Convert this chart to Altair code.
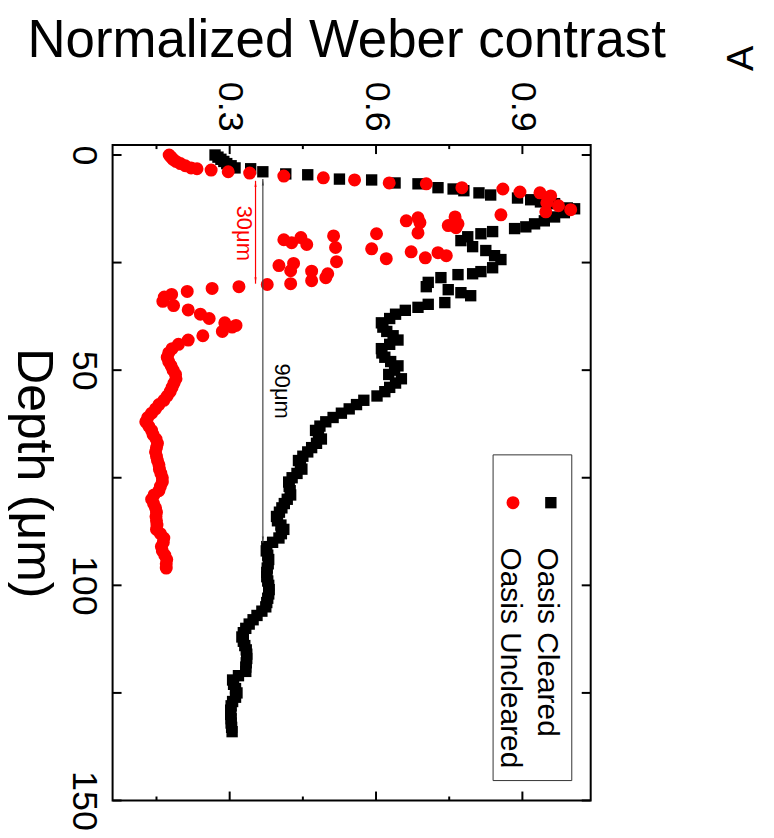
import altair as alt
import pandas as pd

# ---- data ----
cleared_depth = [0, 0.5, 1, 1.5, 2, 2.5, 3, 3.2, 3.9, 4.4, 4.6, 5.6, 5.8, 6.5, 6.7, 7.6, 7.9, 8.3, 8.8, 9.3,
                 10.0, 10.4, 10.9, 11.3, 12.3, 12.5, 13.4, 14.4, 15.3, 16.0, 16.7, 17.1, 17.8, 18.3, 19.0, 19.9,
                 21.3, 22.2, 23.4, 24.3, 26.2, 27.1, 27.6, 27.8, 28.5, 29.6, 30.6, 31.3, 32.0, 32.7, 34.3, 34.7,
                 35.4, 36.1, 37, 38, 39, 40, 41, 42, 43, 44, 45, 46, 47, 48, 49, 50, 51, 52, 53, 54, 55, 56, 57,
                 58, 59, 60, 61, 62, 63, 64, 65, 66, 67, 68, 69, 70, 71, 72, 73, 74, 75, 76, 77, 78, 79, 80, 81,
                 82, 83, 84, 85, 86, 87, 88, 89, 90, 91, 92, 93, 94, 95, 96, 97, 98, 99, 100, 101, 102, 103, 104,
                 105, 106, 107, 108, 109, 110, 111, 112, 113, 114, 115, 116, 117, 118, 119, 120, 121, 122, 123,
                 124, 125, 126, 127, 128, 129, 130, 131, 132, 133, 134]
cleared_contrast = [0.270, 0.276, 0.282, 0.288, 0.294, 0.303, 0.311, 0.343, 0.368, 0.415, 0.460, 0.525, 0.591,
                    0.639, 0.686, 0.727, 0.758, 0.780, 0.811, 0.835, 0.890, 0.917, 0.937, 0.966, 0.992, 1.007,
                    0.986, 0.966, 0.945, 0.925, 0.907, 0.884, 0.839, 0.815, 0.788, 0.774, 0.798, 0.825, 0.843,
                    0.856, 0.839, 0.815, 0.798, 0.768, 0.733, 0.707, 0.703, 0.748, 0.774, 0.794, 0.741, 0.707,
                    0.686, 0.660, 0.640, 0.628, 0.611, 0.614, 0.622, 0.635, 0.645, 0.628, 0.611, 0.612, 0.618,
                    0.630, 0.645, 0.638, 0.626, 0.652, 0.640, 0.628, 0.618, 0.602, 0.575, 0.560, 0.545, 0.529,
                    0.512, 0.497, 0.485, 0.476, 0.482, 0.488, 0.478, 0.468, 0.460, 0.450, 0.441, 0.445, 0.448,
                    0.438, 0.428, 0.421, 0.422, 0.424, 0.425, 0.418, 0.412, 0.407, 0.402, 0.396, 0.398, 0.405,
                    0.411, 0.406, 0.401, 0.388, 0.376, 0.375, 0.378, 0.380, 0.379, 0.377, 0.376, 0.376, 0.378,
                    0.380, 0.381, 0.380, 0.378, 0.376, 0.374, 0.366, 0.356, 0.348, 0.340, 0.333, 0.328, 0.325,
                    0.328, 0.331, 0.334, 0.335, 0.335, 0.334, 0.333, 0.333, 0.318, 0.306, 0.308, 0.312, 0.315,
                    0.312, 0.306, 0.303, 0.302, 0.302, 0.303, 0.303, 0.304, 0.305]

uncleared_depth = [0, 0.5, 1, 1.5, 2, 2.5, 3, 3.2, 3.5, 3.9, 4.2, 4.9, 5.3, 5.8, 6.5, 6.7, 7.6, 7.9, 8.6, 8.8,
                   9.5, 11.1, 11.8, 12.7, 13.2, 13.9, 14.4, 14.6, 15.3, 15.7, 16.0, 16.4, 16.9, 18.1, 18.3, 18.8,
                   19.2, 19.7, 20.4, 20.8, 21.5, 21.8, 22.5, 22.7, 23.4, 23.9, 24.1, 24.8, 25.2, 25.7, 26.9,
                   27.0, 27.6, 28.5, 29.2, 29.9, 30.1, 30.6, 31.0, 31.7, 32.4, 33, 34, 35, 36, 37, 38, 39, 39.6,
                   40, 41, 42, 43, 44, 45, 46, 47, 48, 49, 50, 51, 52, 53, 54, 55, 56, 57, 58, 59, 60, 61, 62, 63,
                   64, 65, 66, 67, 68, 69, 70, 71, 72, 73, 74, 75, 76, 77, 78, 79, 80, 81, 82, 83, 84, 85, 86, 87,
                   88, 89, 90, 91, 92, 93, 94, 95, 96]
uncleared_contrast = [0.176, 0.180, 0.184, 0.190, 0.199, 0.209, 0.221, 0.233, 0.262, 0.297, 0.341, 0.411,
                      0.492, 0.556, 0.627, 0.703, 0.776, 0.860, 0.895, 0.936, 0.958, 0.950, 0.974, 0.999, 0.948,
                      0.856, 0.762, 0.686, 0.662, 0.690, 0.768, 0.748, 0.764, 0.686, 0.601, 0.513, 0.446, 0.411,
                      0.427, 0.458, 0.517, 0.591, 0.672, 0.727, 0.744, 0.701, 0.621, 0.519, 0.431, 0.401, 0.425,
                      0.468, 0.501, 0.497, 0.468, 0.425, 0.377, 0.319, 0.264, 0.213, 0.181, 0.166, 0.163, 0.185,
                      0.215, 0.240, 0.258, 0.290, 0.313, 0.305, 0.285, 0.245, 0.215, 0.195, 0.182, 0.175, 0.172,
                      0.175, 0.180, 0.184, 0.189, 0.190, 0.186, 0.182, 0.178, 0.172, 0.165, 0.155, 0.148, 0.140,
                      0.132, 0.128, 0.134, 0.140, 0.143, 0.149, 0.152, 0.150, 0.148, 0.150, 0.152, 0.155, 0.156,
                      0.159, 0.162, 0.162, 0.158, 0.155, 0.145, 0.140, 0.144, 0.148, 0.150, 0.149, 0.150, 0.151,
                      0.150, 0.158, 0.165, 0.164, 0.160, 0.162, 0.167, 0.171, 0.170, 0.170]

series_names = ["Oasis Cleared", "Oasis Uncleared"]
x_major = [0.3, 0.6, 0.9]
x_minor = [0.15, 0.45, 0.75]
y_ticks = [0, 25, 50, 75, 100, 125, 150]
y_labels = [0, 50, 100, 150]

# annotation arrows (contrast position, start depth, end depth) and labels
arrow_contrast = [0.368, 0.353]
arrow_start = [5.6, 6.0]
arrow_end = [90.1, 29.9]
arrow_color = ["#444444", "#FF0000"]
ann_text = ["90μm", "30μm"]
ann_contrast = [0.408, 0.330]
ann_depth = [54.9, 18.2]

FONT = "Liberation Sans"
W, H = 480, 658

cleared = pd.DataFrame({"depth": cleared_depth, "contrast": cleared_contrast})
uncleared = pd.DataFrame({"depth": uncleared_depth, "contrast": uncleared_contrast})

xs = alt.Scale(domain=[0.06, 1.04], nice=False, zero=False)
ys = alt.Scale(domain=[-2.3, 150], nice=False, zero=False, reverse=True)

x_axis = alt.Axis(orient="top", values=x_major, ticks=False, domain=False, grid=False,
                  labelAngle=90, labelAlign="right", labelBaseline="middle", labelPadding=14,
                  labelFontSize=36, labelFont=FONT, labelColor="black", labelFlush=False,
                  format=".1f",
                  title="Normalized Weber contrast", titleFontSize=53, titleFont=FONT,
                  titleFontWeight="normal", titleColor="black", titleX=234.5, titleY=-89,
                  titleAlign="center", titleBaseline="alphabetic", titleAngle=0)
y_axis = alt.Axis(orient="left", values=y_labels, ticks=False, domain=False, grid=False,
                  labelAngle=90, labelAlign="center", labelBaseline="top", labelPadding=12,
                  labelFontSize=36, labelFont=FONT, labelColor="black", labelFlush=False,
                  title="Depth (μm)", titleFontSize=50, titleFont=FONT, titleFontWeight="normal",
                  titleColor="black", titleAngle=90, titleX=-95, titleY=H / 2,
                  titleAlign="center", titleBaseline="alphabetic")


def X(field):
    return alt.X(field, scale=xs, axis=x_axis)


def Y(field):
    return alt.Y(field, scale=ys, axis=y_axis)


black_pts = alt.Chart(cleared).mark_point(shape="square", filled=True, size=130, opacity=1,
                                           color="black").encode(x=X("contrast:Q"), y=Y("depth:Q"))
red_pts = alt.Chart(uncleared).mark_point(shape="circle", filled=True, size=170, opacity=1,
                                          color="#FF0000").encode(x=X("contrast:Q"), y=Y("depth:Q"))

arrows = pd.DataFrame({"contrast": arrow_contrast, "depth": arrow_start, "end": arrow_end,
                       "col": arrow_color})
arrow_lines = alt.Chart(arrows).mark_rule(strokeWidth=1.2).encode(
    x=X("contrast:Q"), y=Y("depth:Q"), y2="end:Q", color=alt.Color("col:N", scale=None))
head_up = alt.Chart(arrows).mark_point(shape="M0,0L-0.32,2L0.32,2Z", filled=True, size=40,
                                       opacity=1).encode(
    x=X("contrast:Q"), y=Y("depth:Q"), color=alt.Color("col:N", scale=None))
arrows_end = pd.DataFrame({"contrast": arrow_contrast, "depth": arrow_end, "col": arrow_color})
head_down = alt.Chart(arrows_end).mark_point(shape="M0,0L-0.32,-2L0.32,-2Z", filled=True, size=40,
                                             opacity=1).encode(
    x=X("contrast:Q"), y=Y("depth:Q"), color=alt.Color("col:N", scale=None))
ann = pd.DataFrame({"text": ann_text, "contrast": ann_contrast, "depth": ann_depth,
                    "col": ["black", "#FF0000"]})
ann_labels = alt.Chart(ann).mark_text(angle=90, align="center", baseline="middle", fontSize=22,
                                      font=FONT).encode(
    x=X("contrast:Q"), y=Y("depth:Q"), text="text:N", color=alt.Color("col:N", scale=None))

# inward ticks on all four sides
xmaj = pd.DataFrame({"contrast": x_major})
xmin = pd.DataFrame({"contrast": x_minor})
yt = pd.DataFrame({"depth": y_ticks})


def xticks(df, y0, y1):
    return alt.Chart(df).mark_rule(color="black", strokeWidth=2).encode(
        x=X("contrast:Q"), y=alt.value(y0), y2=alt.value(y1))


def yticks(x0, x1):
    return alt.Chart(yt).mark_rule(color="black", strokeWidth=2).encode(
        y=Y("depth:Q"), x=alt.value(x0), x2=alt.value(x1))


tick_layers = [xticks(xmaj, 0, 9), xticks(xmin, 0, 4), xticks(xmaj, H, H - 9), xticks(xmin, H, H - 4),
               yticks(0, 9), yticks(W, W - 9)]

# legend (rotated like the rest of the figure)
one = pd.DataFrame({"k": [0]})
leg_box = alt.Chart(one).mark_rect(fill="white", stroke="#333333", strokeWidth=1).encode(
    x=alt.value(382), x2=alt.value(461), y=alt.value(311), y2=alt.value(638))
leg_sq = alt.Chart(one).mark_point(shape="square", filled=True, size=130, opacity=1,
                                   color="black").encode(x=alt.value(440), y=alt.value(359))
leg_ci = alt.Chart(one).mark_point(shape="circle", filled=True, size=170, opacity=1,
                                   color="#FF0000").encode(x=alt.value(402), y=alt.value(359))
leg_t1 = alt.Chart(one).mark_text(text=series_names[0], angle=90, align="left", baseline="alphabetic",
                                  fontSize=30, font=FONT, color="black").encode(
    x=alt.value(427), y=alt.value(404))
leg_t2 = alt.Chart(one).mark_text(text=series_names[1], angle=90, align="left", baseline="alphabetic",
                                  fontSize=30, font=FONT, color="black").encode(
    x=alt.value(390), y=alt.value(404))
panel_a = alt.Chart(one).mark_text(text="A", angle=270, align="center", baseline="middle",
                                   fontSize=38, font=FONT, color="black").encode(
    x=alt.value(632), y=alt.value(-87))

chart = alt.layer(
    black_pts, red_pts, arrow_lines, head_up, head_down, ann_labels, *tick_layers,
    leg_box, leg_sq, leg_ci, leg_t1, leg_t2, panel_a,
).properties(
    width=W, height=H,
    autosize=alt.AutoSizeParams(type="none"),
    padding={"left": 105, "top": 136, "right": 176, "bottom": 32},
).configure_view(stroke="black", strokeWidth=2)

chart.save("out.html", embed_options={"renderer": "svg", "actions": False})
